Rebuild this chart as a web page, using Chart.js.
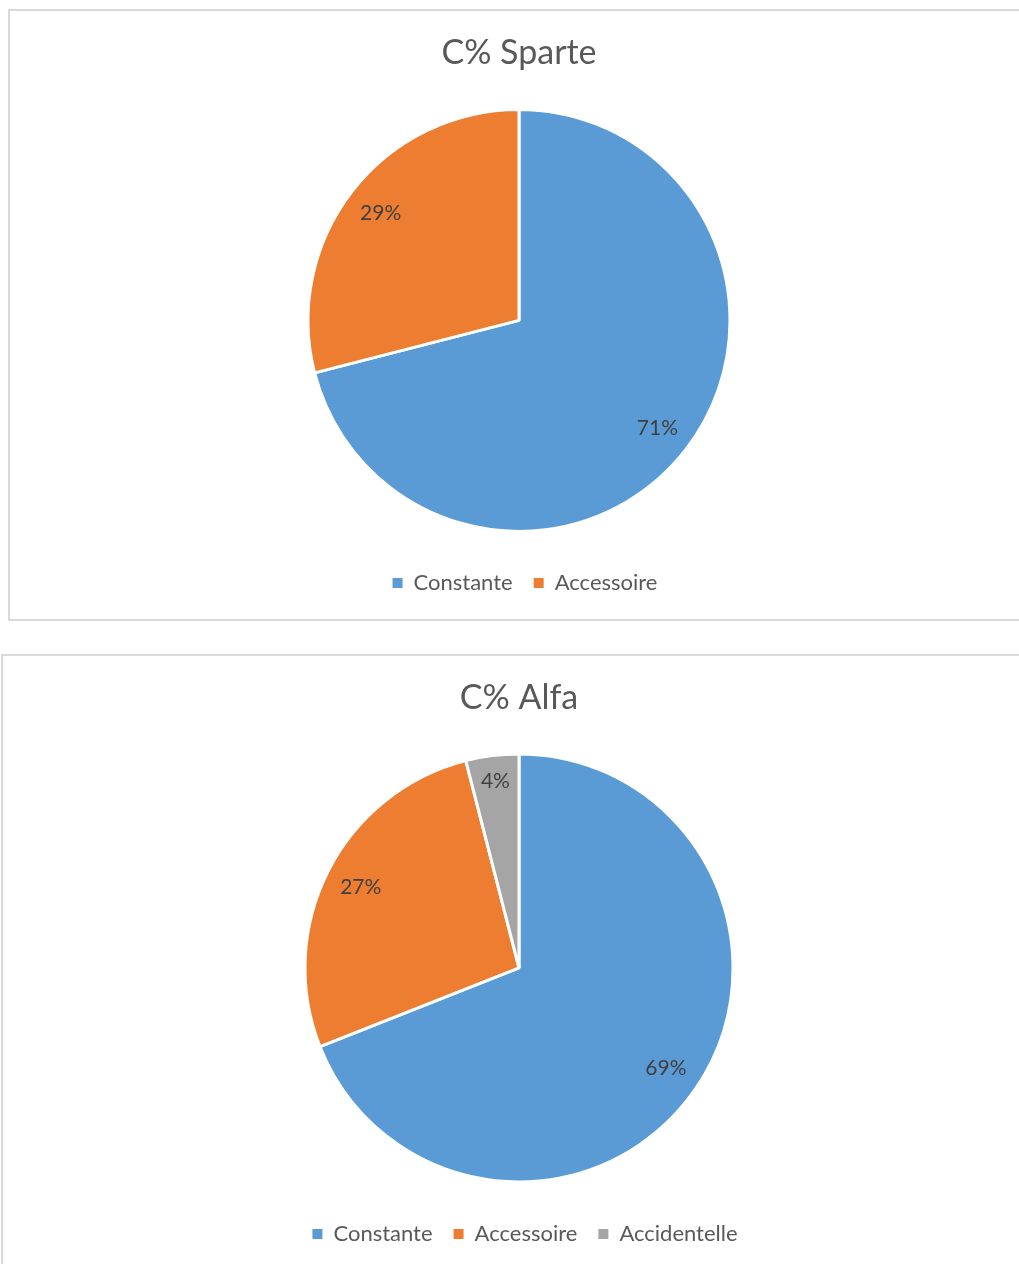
<!DOCTYPE html>
<html>
<head>
<meta charset="utf-8">
<title>C% Sparte / C% Alfa</title>
<script src="https://cdn.jsdelivr.net/npm/chart.js@4.4.1/dist/chart.umd.min.js"></script>
<style>
  html, body { margin: 0; padding: 0; background: #fff; overflow: hidden; }
  body { width: 1019px; height: 1264px; position: relative; }
  .box { position: absolute; background: #fff; }
  #box-sparte { left: 8px; top: 9px; width: 1018px; height: 608px; border: 2px solid #d9d9d9; }
  #box-alfa { left: 1px; top: 654px; width: 1032px; height: 612px; border: 2px solid #d9d9d9; }
  .box canvas { display: block; }
</style>
</head>
<body>
<div class="box" id="box-sparte"><canvas id="chart-sparte" width="1018" height="608"></canvas></div>
<div class="box" id="box-alfa"><canvas id="chart-alfa" width="1032" height="612"></canvas></div>

<script>
// --- data ---
const sparteLabels = ['Constante', 'Accessoire'];
const sparteValues = [71, 29];

const alfaLabels = ['Constante', 'Accessoire', 'Accidentelle'];
const alfaValues = [69, 27, 4];

const sliceColors = ['#5B9BD5', '#ED7D31', '#A5A5A5'];

const FONT = 'Lato, "Open Sans", sans-serif';

// percentage labels drawn inside each slice (Excel "best fit" style)
const pctLabels = {
  id: 'pctLabels',
  afterDatasetsDraw(chart) {
    const ctx = chart.ctx;
    const ds = chart.data.datasets[0];
    const total = ds.data.reduce((a, b) => a + b, 0);
    chart.getDatasetMeta(0).data.forEach((arc, i) => {
      const p = arc.getProps(['x', 'y', 'startAngle', 'endAngle', 'outerRadius'], true);
      const mid = (p.startAngle + p.endAngle) / 2;
      const share = ds.data[i] / total;
      const f = share < 0.06 ? 0.88 : 0.83;
      const lx = p.x + Math.cos(mid) * p.outerRadius * f;
      const ly = p.y + Math.sin(mid) * p.outerRadius * f;
      ctx.save();
      ctx.font = '21px ' + FONT;
      ctx.fillStyle = '#404040';
      ctx.textAlign = 'center';
      ctx.textBaseline = 'middle';
      ctx.fillText(Math.round(share * 100) + '%', lx, ly);
      ctx.restore();
    });
  }
};

// Excel's legend sits a few px right of the pie centre
const legendNudge = {
  id: 'legendNudge',
  afterLayout(chart) {
    chart.legend.left += 6;
    chart.legend.right += 6;
  }
};

function makePie(id, title, labels, values, pad) {
  const ctx = document.getElementById(id).getContext('2d');
  return new Chart(ctx, {
    type: 'pie',
    data: {
      labels: labels,
      datasets: [{
        data: values,
        backgroundColor: sliceColors.slice(0, values.length),
        borderColor: '#ffffff',
        borderWidth: 3,
        radius: pad.radius
      }]
    },
    options: {
      responsive: false,
      animation: false,
      layout: { padding: { top: 0, bottom: pad.bottom, left: 0, right: 0 } },
      plugins: {
        title: {
          display: true,
          text: title,
          color: '#595959',
          font: { family: FONT, size: 34, weight: 'normal' },
          padding: { top: pad.titleTop, bottom: pad.titleBottom }
        },
        legend: {
          position: 'bottom',
          labels: {
            color: '#595959',
            font: { family: FONT, size: 22 },
            boxWidth: 10,
            boxHeight: 10,
            padding: 21,
            generateLabels: (chart) =>
              Chart.overrides.pie.plugins.legend.labels.generateLabels(chart)
                .map(l => Object.assign(l, { lineWidth: 0 }))
          }
        },
        tooltip: { enabled: false }
      }
    },
    plugins: [pctLabels, legendNudge]
  });
}

makePie('chart-sparte', 'C% Sparte', sparteLabels, sparteValues,
  { titleTop: 22, titleBottom: 16, bottom: 15, radius: 211 });
makePie('chart-alfa', 'C% Alfa', alfaLabels, alfaValues,
  { titleTop: 22, titleBottom: 15, bottom: 13, radius: 214 });
</script>
</body>
</html>
